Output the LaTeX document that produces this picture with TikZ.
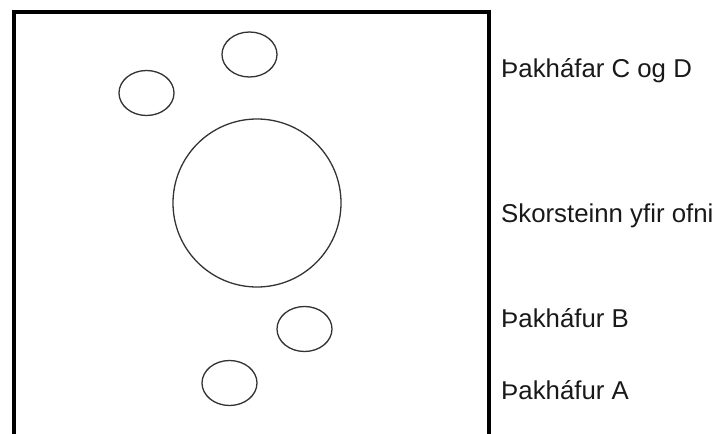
\documentclass[tikz,border=0pt]{standalone}
\usepackage{fontspec}
\setmainfont{Liberation Sans}
\usetikzlibrary{shapes.geometric}

\begin{document}
\begin{tikzpicture}[
      x=1pt, y=-1pt,
      vent/.style = {ellipse, draw=black!80, line width=1.3pt, inner sep=0pt, minimum width=55pt, minimum height=45pt},
      stack/.style = {circle, draw=black!80, line width=1.3pt, inner sep=0pt, minimum size=168pt},
      tag/.style = {anchor=base west, inner sep=0pt, text=black!90, font=\fontsize{25.8}{30}\selectfont}
    ]
    \useasboundingbox (0,0) rectangle (716,434);
    \draw[line width=4.5pt] (14,440) -- (14,12) -- (489,12) -- (489,440);
    \node[vent]  (ventC) at (249.5,54.5) {};
    \node[vent]  (ventD) at (146.5,93) {};
    \node[stack] (oven)  at (257,203) {};
    \node[vent]  (ventB) at (304.5,329) {};
    \node[vent]  (ventA) at (229.5,383) {};
    \node[tag] (tagCD)   at (501,77)  {Þakháfar C og D};
    \node[tag] (tagOven) at (501,222) {Skorsteinn yfir ofni};
    \node[tag] (tagB)    at (501,327) {Þakháfur B};
    \node[tag] (tagA)    at (501,399) {Þakháfur A};
  \end{tikzpicture}
\end{document}
